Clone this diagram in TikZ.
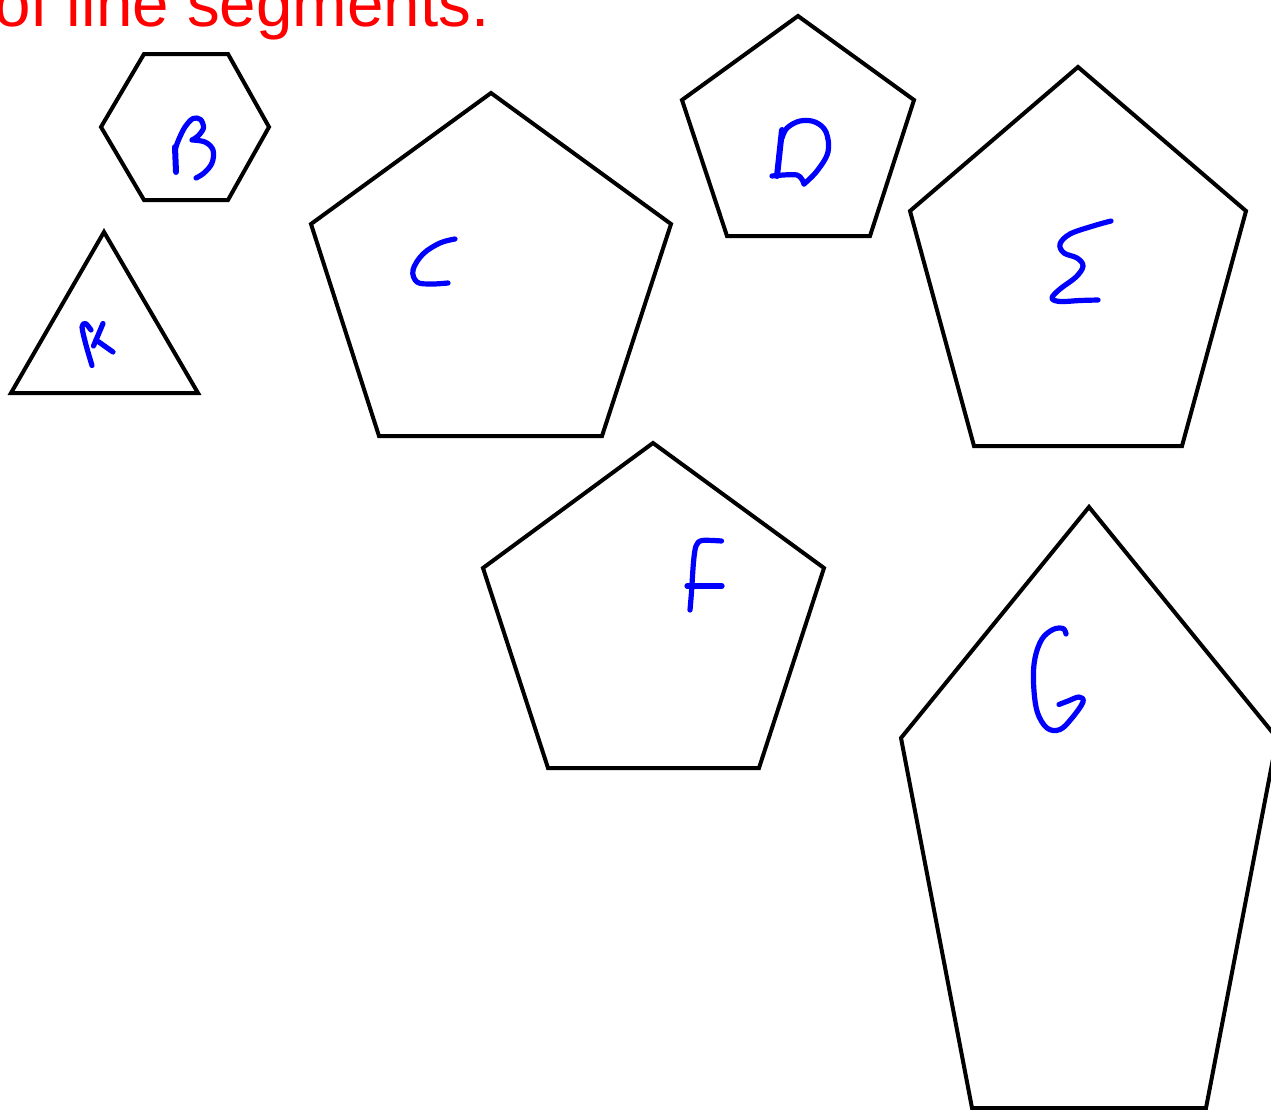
\documentclass[tikz,border=0pt]{standalone}
\usepackage{fontspec}
\setmainfont{Liberation Sans}
\begin{document}
\begin{tikzpicture}[x=1pt,y=-1pt,
  outline/.style={draw=black,line width=4pt},
  hand/.style={draw=blue,line width=5.2pt,line cap=round,line join=round}]
\useasboundingbox (0,0) rectangle (1271,1109);
\clip (0,0) rectangle (1271,1109);
\fill[white] (0,0) rectangle (1271,1109);
% title
\node[anchor=base west,inner sep=0pt,text=red,font=\fontsize{65.5}{78}\selectfont] (title) at (-6,26) {of line segments.};
% shapes
\draw[outline] (101,127) -- (144,54) -- (228,54) -- (269,127) -- (228,200) -- (144,200) -- cycle;
\draw[outline] (104,232) -- (198,393) -- (11,393) -- cycle;
\draw[outline] (491,93) -- (671,224) -- (602,436) -- (379,436) -- (311,224) -- cycle;
\draw[outline] (798,16) -- (914,100) -- (870,236) -- (727,236) -- (682,100) -- cycle;
\draw[outline] (1078,67) -- (1246,211) -- (1182,446) -- (974,446) -- (910,211) -- cycle;
\draw[outline] (653,443) -- (824,568) -- (759,768) -- (548,768) -- (483,568) -- cycle;
\draw[outline] (1089,507) -- (1277,738) -- (1206,1108) -- (972,1108) -- (901,738) -- cycle;
% A
\draw[hand] plot[smooth,tension=0.5] coordinates {(92,365.5) (86,345) (82,327) (85.5,323.5) (91,330)};
\draw[hand] (103,323.5) -- (93.5,346);
\draw[hand] (96,340) -- (113,352);
% B
\draw[hand,line width=6pt] (175,147) -- (176,172);
\draw[hand] plot[smooth,tension=0.55] coordinates {(175,150) (178.5,140) (185,127) (193,118.5) (200.5,119.5) (203.5,128) (198,136) (192,140)}
  plot[smooth,tension=0.6] coordinates {(192,140) (205,142) (213,150) (212,163) (204,173) (196,178)};
% C
\draw[hand] plot[smooth,tension=0.6] coordinates {(455,239) (440,243) (423,254) (413,270) (417,282) (431,284) (448,283)};
% D
\draw[hand,line width=6pt] (782,130) -- (777,176);
\draw[hand] plot[smooth,tension=0.55] coordinates {(772,176) (797,175) (804,184)};
\draw[hand] plot[smooth,tension=0.6] coordinates {(804,184) (817,171) (828,152) (826,132) (815,122) (800,121) (787,128) (782,138)};
% E
\draw[hand] plot[smooth,tension=0.6] coordinates {(1111,221) (1093,226) (1070,234) (1060,244) (1064,253) (1077,258) (1083,266) (1076,277) (1060,289) (1052,298) (1060,301.5) (1080,300.5) (1098,300)};
% F
\draw[hand] plot[smooth,tension=0.5] coordinates {(721.5,541) (702,540.5) (696,546) (693.5,562) (691.5,592) (690,610)};
\draw[hand] (687,586) -- (722,586);
% G
\draw[hand] plot[smooth,tension=0.6] coordinates {(1066,634) (1063,628.5) (1053,629.5) (1042,639) (1035,658) (1033.5,682) (1037,711) (1047,728) (1060,729.5) (1072,718) (1083,702) (1079,697) (1068,701) (1059,704.5)};
\end{tikzpicture}
\end{document}
